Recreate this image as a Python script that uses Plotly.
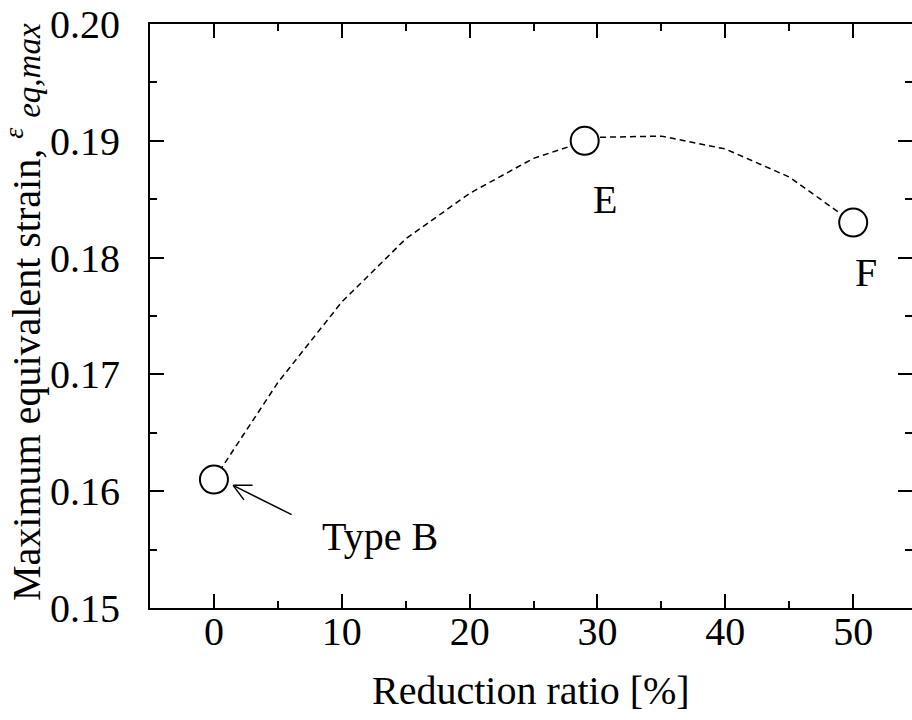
import plotly.graph_objects as go

# Data
point_x = [0, 29, 50]
point_y = [0.161, 0.190, 0.183]
point_labels = ["Type B", "E", "F"]

curve_x = [0, 5, 10, 15, 20, 25, 30, 35, 40, 45, 50]
curve_y = [0.161, 0.1693, 0.1762, 0.1816, 0.1855, 0.1885, 0.1903, 0.1904, 0.1893, 0.1869, 0.183]

x_major = [0, 10, 20, 30, 40, 50]
x_minor = [-5, 5, 15, 25, 35, 45]
y_major = [0.15, 0.16, 0.17, 0.18, 0.19, 0.20]
y_minor = [0.155, 0.165, 0.175, 0.185, 0.195]
y_ticktext = ["0.15", "0.16", "0.17", "0.18", "0.19", "0.20"]

FONT = "Liberation Serif"
W, H = 912, 720
L, R, T, B = 150, 0, 24, 112

fig = go.Figure()
fig.add_trace(go.Scatter(
    x=curve_x, y=curve_y, mode="lines",
    line=dict(color="black", width=1.5, dash="6px,4px"),
    showlegend=False, hoverinfo="skip"))
fig.add_trace(go.Scatter(
    x=point_x, y=point_y, mode="markers",
    marker=dict(symbol="circle", size=28, color="white",
                line=dict(color="black", width=2)),
    showlegend=False))
fig.add_trace(go.Scatter(x=[None], y=[None], yaxis="y2", showlegend=False))

common = dict(showgrid=False, zeroline=False, ticks="inside",
              tickcolor="black", tickwidth=1.5, ticklen=14,
              tickfont=dict(family=FONT, size=40, color="black"))
minor_style = dict(ticks="inside", ticklen=7, tickwidth=1.5, tickcolor="black")

fig.update_layout(
    width=W, height=H,
    margin=dict(l=L, r=R, t=T, b=B, pad=0),
    paper_bgcolor="white", plot_bgcolor="white",
    xaxis=dict(range=[-5, 54.6], tickvals=x_major, ticktext=[str(v) for v in x_major],
               showline=True, linecolor="black", linewidth=2, mirror="ticks",
               minor=dict(tickvals=x_minor, **minor_style),
               ticklabelstandoff=-13, **common),
    yaxis=dict(range=[0.15, 0.20], tickvals=y_major, ticktext=y_ticktext,
               showline=True, linecolor="black", linewidth=2,
               minor=dict(tickvals=y_minor, **minor_style),
               ticklabelstandoff=20, **common),
    yaxis2=dict(range=[0.15, 0.20], tickvals=y_major, overlaying="y", side="right",
                showline=False, showticklabels=False, showgrid=False, zeroline=False,
                ticks="inside", tickcolor="black", tickwidth=1.5, ticklen=14,
                minor=dict(tickvals=y_minor, **minor_style)),
)

lbl_font = dict(family=FONT, size=40, color="black")
annotations = [
    dict(x=13.0, y=0.1561, text=point_labels[0], showarrow=False, font=lbl_font),
    dict(x=30.6, y=0.1850, text=point_labels[1], showarrow=False, font=lbl_font),
    dict(x=51.0, y=0.1787, text=point_labels[2], showarrow=False, font=lbl_font),
]
# arrow to the Type B marker (shaft and two open-head wings)
tip_x, tip_y = 1.5, 0.1605
for ax_, ay_ in [(60, 30), (21, 0), (12, 16)]:
    annotations.append(dict(x=tip_x, y=tip_y, ax=ax_, ay=ay_, axref="pixel", ayref="pixel",
                            text="", showarrow=True, arrowhead=0, arrowwidth=1.5,
                            arrowcolor="black", standoff=0, startstandoff=0))
# axis titles
annotations.append(dict(x=0.5, y=0, xref="paper", yref="paper", yshift=-82,
                        xanchor="center", yanchor="middle", text="Reduction ratio [%]",
                        showarrow=False, font=lbl_font))
annotations.append(dict(x=0, y=0.5, xref="paper", yref="paper", xshift=-127, yshift=4,
                        xanchor="center", yanchor="middle", textangle=-90,
                        text="Maximum equivalent strain, <sup><i>ε</i></sup> "
                             "<i><span style='font-size:33px'>eq,max</span></i>",
                        showarrow=False, font=lbl_font))
fig.update_layout(annotations=annotations)

fig.write_html("out.html")
